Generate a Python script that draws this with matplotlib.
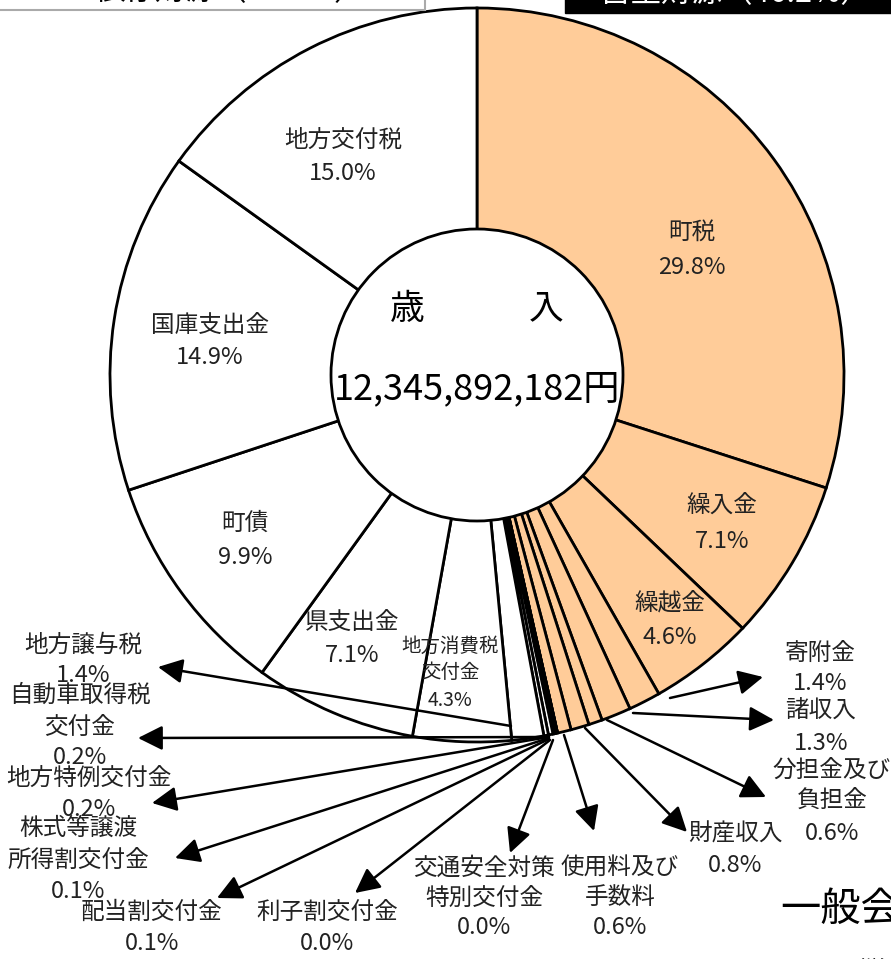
import matplotlib
matplotlib.use("Agg")
import matplotlib.pyplot as plt
from matplotlib.patches import Circle, Rectangle

plt.rcParams['font.family'] = ['Noto Sans CJK JP', 'DejaVu Sans']

# ---------------- data ----------------
names = ['町税', '繰入金', '繰越金', '寄附金', '諸収入', '分担金及び\n負担金', '財産収入',
         '使用料及び\n手数料', '交通安全対策\n特別交付金', '利子割交付金', '配当割交付金',
         '株式等譲渡\n所得割交付金', '地方特例交付金', '自動車取得税\n交付金', '地方譲与税',
         '地方消費税\n交付金', '県支出金', '町債', '国庫支出金', '地方交付税']
shares = [29.8, 7.1, 4.6, 1.4, 1.3, 0.6, 0.8, 0.6, 0.0, 0.0, 0.1, 0.1, 0.2, 0.2, 1.4,
          4.3, 7.1, 9.9, 14.9, 15.0]
own_source = [True] * 8 + [False] * 12
total_text = '12,345,892,182円'
header_left = '依存財源（53.8%）'
header_right = '自主財源（46.2%）'
title_text = '一般会計'

# ---------------- layout (image pixel coords, y down) ----------------
W, H = 891, 959
CX, CY, R, R_IN = 477, 375, 367, 146

def P(x, y):
    return (x, H - y)

# (x, [name line ys], pct y)
label_pos = [
    (692, [232], 268), (722, [505], 541), (670, [603], 637), (820, [653], 683),
    (821, [711], 743), (832, [770, 800], 833), (735, [834], 866), (620, [868, 898], 928),
    (484, [868, 898], 928), (327, [912], 943), (152, [912], 943), (78, [828, 860], 892),
    (89, [778], 810), (80, [695, 727], 757), (83, [645], 675), (450, [646, 673], 700),
    (352, [622], 655), (245, [523], 558), (210, [325], 358), (343, [140], 173),
]
# arrows: index -> (start, tip)
arrows = {
    3: ((670, 698), (763, 677)),
    4: ((633, 713), (774, 720)),
    5: ((607, 720), (766, 797)),
    6: ((585, 728), (687, 832)),
    7: ((564, 735), (594, 831)),
    8: ((553, 740), (510, 853)),
    9: ((550, 740), (355, 893)),
    10: ((549, 739), (217, 898)),
    11: ((549, 738), (175, 858)),
    12: ((549, 737), (152, 803)),
    13: ((549, 737), (138, 738)),
    14: ((511, 726), (158, 667)),
}

fig = plt.figure(figsize=(W / 100, H / 100), dpi=100)
ax = fig.add_axes([0, 0, 1, 1])

colors = ['#FFCC99' if o else 'white' for o in own_source]
ax.pie(shares, colors=colors, startangle=90, counterclock=False,
       center=P(CX, CY), radius=R, normalize=True,
       wedgeprops=dict(edgecolor='black', linewidth=2.0))

ax.add_patch(Circle(P(CX, CY), R_IN, facecolor='white', edgecolor='black',
                    linewidth=2.0, zorder=5))

ax.set_xlim(0, W)
ax.set_ylim(0, H)
ax.set_aspect('auto')
ax.axis('off')

txt_color = '#222222'
for i, (name, v) in enumerate(zip(names, shares)):
    x, ys, py = label_pos[i]
    fs = 14 if i == 15 else 17
    for line, y in zip(name.split('\n'), ys):
        ax.text(*P(x, y), line, ha='center', va='center', fontsize=fs,
                color=txt_color, zorder=7)
    ax.text(*P(x, py), f'{v:.1f}%', ha='center', va='center', fontsize=fs,
            color=txt_color, zorder=7)

for i, (s, t) in arrows.items():
    ax.annotate('', xy=P(*t), xytext=P(*s), zorder=8,
                arrowprops=dict(arrowstyle='-|>,head_length=0.5,head_width=0.25',
                                mutation_scale=30, color='black', lw=1.8,
                                shrinkA=0, shrinkB=0))

# center text
ax.text(*P(CX, 309), '歳\u3000\u3000\u3000入', ha='center', va='center',
        fontsize=25, color='black', zorder=9)
ax.text(*P(CX, 389), total_text, ha='center', va='center', fontsize=26,
        color='black', zorder=9)

# header boxes (cut off at top)
ax.add_patch(Rectangle(P(-5, 10), 430, 40, facecolor='white', edgecolor='#aaaaaa',
                       linewidth=1.5, zorder=10, clip_on=False))
ax.text(*P(230, -8), header_left, ha='center', va='center', fontsize=22,
        color='black', zorder=11)
ax.add_patch(Rectangle(P(565, 13), 400, 40, facecolor='black', edgecolor='black',
                       linewidth=1, zorder=10, clip_on=False))
ax.text(*P(600, -6), header_right, ha='left', va='center', fontsize=22,
        color='white', zorder=11)

# bottom-right title (cut off)
ax.text(*P(780, 910), title_text, ha='left', va='center', fontsize=29,
        color='black', zorder=11)
ax.text(*P(843, 970), '（単位：円）', ha='left', va='center', fontsize=16,
        color='black', zorder=11)

fig.savefig('out.png', dpi=100)
